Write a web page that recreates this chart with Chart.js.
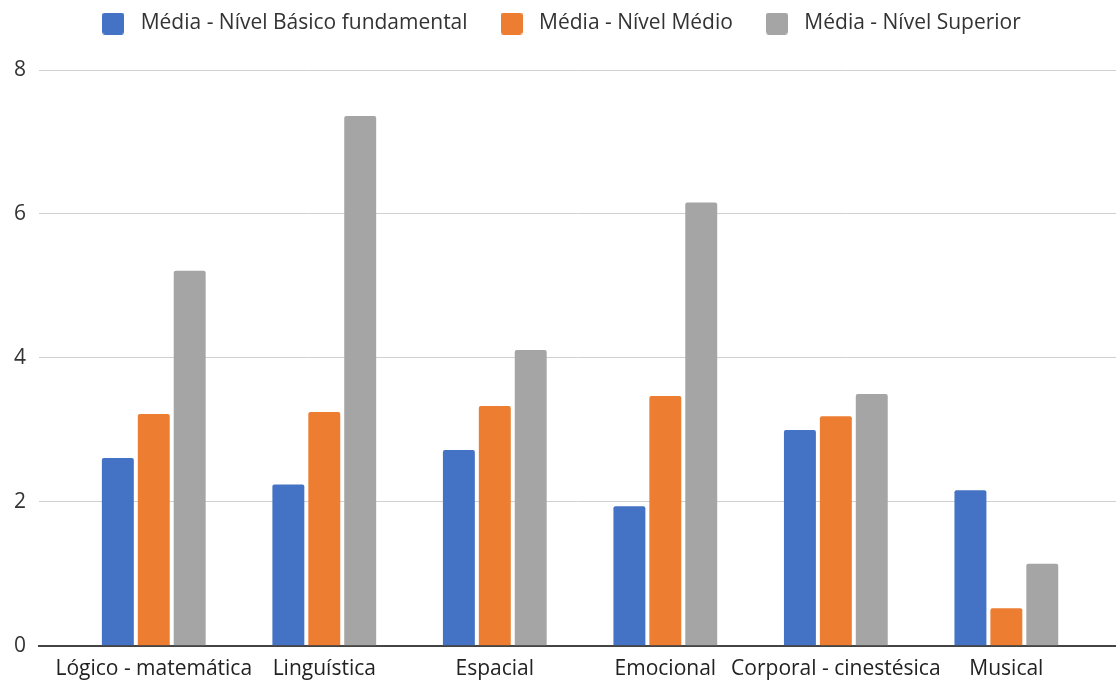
<!DOCTYPE html>
<html>
<head>
<meta charset="utf-8">
<script src="https://cdn.jsdelivr.net/npm/chart.js@4"></script>
<style>
  html, body { margin:0; padding:0; background:#fff; }
  #wrap { width:1116px; height:681px; position:relative; }
</style>
</head>
<body>
<div id="wrap"><canvas id="chart"></canvas></div>
<script>
// categories + series
const categories = ['Lógico - matemática', 'Linguística', 'Espacial', 'Emocional', 'Corporal - cinestésica', 'Musical'];
const basico   = [2.61, 2.24, 2.72, 1.94, 3.00, 2.16];
const medio    = [3.22, 3.25, 3.33, 3.47, 3.19, 0.52];
const superior = [5.21, 7.36, 4.11, 6.16, 3.50, 1.14];
const yTicks   = [0, 2, 4, 6, 8];

const FONT = "'Open Sans', 'Noto Sans', sans-serif";

// small rounded square used as legend marker
function swatch(color) {
  const c = document.createElement('canvas');
  c.width = 22; c.height = 22;
  const g = c.getContext('2d');
  g.fillStyle = color;
  g.beginPath(); g.roundRect(0, 0, 22, 22, 3); g.fill();
  return c;
}

// extra room under the legend
const legendGap = {
  id: 'legendGap',
  beforeInit(chart) {
    const fit = chart.legend.fit;
    chart.legend.fit = function () { fit.bind(chart.legend)(); this.height += 26; };
  }
};

const toPts = arr => arr.map((v, i) => ({ x: i, y: v }));
const ds = (label, data, color) => ({
  label, data: toPts(data), backgroundColor: color, borderWidth: 0,
  borderRadius: { topLeft: 2, topRight: 2 }, borderSkipped: 'bottom',
  categoryPercentage: 0.632, barPercentage: 0.889
});

new Chart(document.getElementById('chart'), {
  type: 'bar',
  data: { datasets: [
    ds('Média - Nível Básico fundamental', basico, '#4472c4'),
    ds('Média - Nível Médio', medio, '#ed7d31'),
    ds('Média - Nível Superior', superior, '#a5a5a5'),
  ]},
  plugins: [legendGap],
  options: {
    responsive: true, maintainAspectRatio: false, animation: false,
    layout: { padding: { left: 1, right: 0, top: -14, bottom: -12 } },
    plugins: {
      legend: {
        position: 'top',
        labels: { color: '#333', font: { family: FONT, size: 21 },
          usePointStyle: true, pointStyleWidth: 34, boxHeight: 22, padding: 27,
          generateLabels(chart) {
            return Chart.defaults.plugins.legend.labels.generateLabels(chart)
              .map(l => ({ ...l, pointStyle: swatch(l.fillStyle) }));
          }
        }
      },
      tooltip: { enabled: false }
    },
    scales: {
      x: {
        type: 'linear', min: -0.673, max: 5.643, offset: false,
        afterBuildTicks: s => { s.ticks = categories.map((_, i) => ({ value: i })); },
        ticks: { autoSkip: false, maxRotation: 0, minRotation: 0, padding: 11,
          color: '#222', font: { family: FONT, size: 21 },
          callback: v => categories[v] },
        grid: { display: false, drawTicks: false },
        border: { display: true, color: '#444', width: 2 }
      },
      y: {
        min: 0, max: 8,
        afterBuildTicks: s => { s.ticks = yTicks.map(v => ({ value: v })); },
        ticks: { color: '#333', font: { family: FONT, size: 21 }, padding: 13 },
        grid: { color: '#d0d0d0', drawTicks: false },
        border: { display: false }
      }
    }
  }
});
</script>
</body>
</html>
